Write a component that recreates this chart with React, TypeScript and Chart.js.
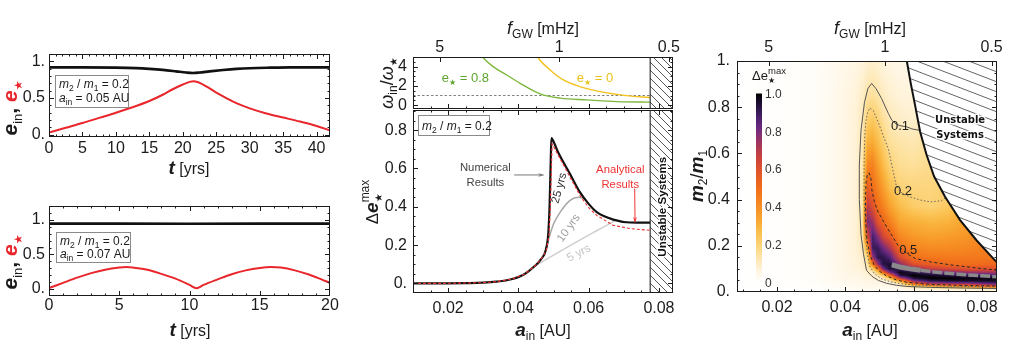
import React, { useEffect, useRef } from 'react';
import { Chart, registerables } from 'chart.js';

Chart.register(...registerables);

/* ====================== DATA ====================== */

// top-left panel: m2/m1 = 0.2, a_in = 0.05 AU
const tStarA = [0, 2.5, 5, 7.5, 10, 12.5, 15, 17, 18.5, 20, 21, 21.6, 22.3, 23.5, 25, 26.5, 28, 30, 32.5, 35, 37.5, 40, 42];
const eStarA = [0.03, 0.095, 0.16, 0.23, 0.3, 0.375, 0.46, 0.545, 0.62, 0.685, 0.72, 0.73, 0.715, 0.66, 0.575, 0.5, 0.43, 0.36, 0.29, 0.235, 0.18, 0.12, 0.06];
const tInA = [0, 5, 10, 13, 15, 17, 19, 20.5, 21.5, 22.5, 24, 26, 28, 30, 33, 36, 42];
const eInA = [0.918, 0.918, 0.915, 0.908, 0.898, 0.884, 0.864, 0.848, 0.842, 0.848, 0.864, 0.882, 0.897, 0.907, 0.914, 0.918, 0.918];

// bottom-left panel: m2/m1 = 0.2, a_in = 0.07 AU
const tStarB = [0, 1, 2, 3, 4, 5, 5.5, 6, 7, 8, 9, 10, 10.5, 11, 12, 13, 14, 15, 15.8, 16.5, 17.5, 18.5, 19.5, 20];
const eStarB = [0.015, 0.09, 0.165, 0.23, 0.28, 0.31, 0.318, 0.31, 0.28, 0.22, 0.15, 0.06, 0.012, 0.06, 0.14, 0.215, 0.27, 0.305, 0.318, 0.31, 0.27, 0.21, 0.13, 0.09];
const tInB = [0, 5, 10, 15, 20];
const eInB = [0.945, 0.946, 0.944, 0.945, 0.945];

// middle-top panel: omega_in / omega_star
const aGreen = [0.0294, 0.0301, 0.0329, 0.0367, 0.0405, 0.0462, 0.0519, 0.0595, 0.068, 0.0775];
const wGreen = [5.2, 4.87, 3.98, 3.13, 2.27, 1.17, 0.73, 0.55, 0.37, 0.31];
const aYellow = [0.0452, 0.0457, 0.049, 0.0528, 0.0575, 0.0632, 0.0708, 0.0775];
const wYellow = [5.2, 4.87, 3.66, 2.62, 1.93, 1.41, 0.99, 0.79];
const wUnity = 1;

// middle-bottom panel: delta e_star max
const aNum = [0.01, 0.02, 0.025, 0.03, 0.0336, 0.038, 0.0417, 0.0445, 0.0464, 0.0478, 0.0485, 0.0489, 0.0492, 0.0494, 0.0498, 0.0513, 0.0547, 0.0575, 0.06, 0.0623, 0.067, 0.0718, 0.0775];
const deNum = [0, 0.0005, 0.0015, 0.004, 0.009, 0.022, 0.048, 0.088, 0.125, 0.175, 0.26, 0.42, 0.64, 0.758, 0.748, 0.684, 0.571, 0.476, 0.415, 0.372, 0.333, 0.318, 0.317];
const aAna = [0.01, 0.02, 0.03, 0.0336, 0.038, 0.0417, 0.0445, 0.0464, 0.0479, 0.0487, 0.0491, 0.0494, 0.0496, 0.0513, 0.0547, 0.0575, 0.06, 0.0623, 0.067, 0.0718, 0.0775];
const deAna = [0, 0.0005, 0.004, 0.009, 0.022, 0.048, 0.088, 0.125, 0.17, 0.25, 0.4, 0.6, 0.728, 0.67, 0.555, 0.46, 0.395, 0.355, 0.303, 0.286, 0.277];
const a10 = [0.0478, 0.0486, 0.05, 0.0519, 0.0547, 0.0571, 0.059];
const de10 = [0.175, 0.23, 0.31, 0.372, 0.433, 0.45, 0.442];
const a5 = [0.0445, 0.05, 0.0557, 0.061, 0.0656, 0.0675];
const de5 = [0.088, 0.148, 0.208, 0.262, 0.308, 0.328];
const unstableA = 0.0775;

// right panel: heat map of delta e_star max over (a_in, m2/m1)
const heatA = [0.008, 0.03, 0.036, 0.04, 0.043, 0.045, 0.0465, 0.048, 0.0495, 0.051, 0.053, 0.056, 0.06, 0.065, 0.07, 0.076, 0.085];
const heatM = [0, 0.012, 0.024, 0.036, 0.048, 0.06, 0.072, 0.085, 0.1, 0.12, 0.15, 0.19, 0.24, 0.3, 0.37, 0.45, 0.55, 0.65, 0.75, 0.85, 0.95, 1.0];
const heatByColumn = [
  [0, 0, 0, 0, 0, 0, 0, 0, 0, 0, 0, 0, 0, 0, 0, 0, 0, 0, 0, 0, 0, 0],
  [0, 0.003, 0.005, 0.008, 0.01, 0.01, 0.01, 0.01, 0.01, 0.01, 0.01, 0.01, 0.01, 0.01, 0.01, 0.01, 0.01, 0.01, 0.01, 0.01, 0.01, 0.01],
  [0.005, 0.01, 0.015, 0.02, 0.022, 0.025, 0.025, 0.028, 0.03, 0.03, 0.03, 0.03, 0.03, 0.03, 0.03, 0.03, 0.03, 0.03, 0.03, 0.03, 0.028, 0.025],
  [0.008, 0.015, 0.022, 0.03, 0.035, 0.04, 0.042, 0.045, 0.048, 0.05, 0.05, 0.05, 0.05, 0.05, 0.05, 0.05, 0.05, 0.05, 0.05, 0.05, 0.045, 0.04],
  [0.01, 0.02, 0.028, 0.035, 0.04, 0.045, 0.05, 0.055, 0.06, 0.063, 0.066, 0.068, 0.07, 0.07, 0.07, 0.07, 0.07, 0.07, 0.068, 0.064, 0.055, 0.05],
  [0.012, 0.02, 0.03, 0.04, 0.045, 0.05, 0.055, 0.06, 0.07, 0.075, 0.085, 0.1, 0.12, 0.13, 0.13, 0.13, 0.12, 0.115, 0.105, 0.09, 0.07, 0.06],
  [0.015, 0.025, 0.035, 0.045, 0.05, 0.06, 0.07, 0.085, 0.11, 0.14, 0.19, 0.35, 0.6, 0.8, 0.7, 0.55, 0.42, 0.3, 0.21, 0.14, 0.09, 0.08],
  [0.015, 0.025, 0.035, 0.045, 0.055, 0.065, 0.08, 0.1, 0.2, 0.45, 0.75, 0.9, 0.88, 0.76, 0.6, 0.5, 0.44, 0.32, 0.23, 0.15, 0.1, 0.085],
  [0.015, 0.025, 0.035, 0.045, 0.06, 0.08, 0.12, 0.22, 0.45, 0.75, 0.92, 0.9, 0.78, 0.6, 0.5, 0.43, 0.35, 0.27, 0.2, 0.13, 0.09, 0.075],
  [0.015, 0.025, 0.035, 0.05, 0.07, 0.1, 0.22, 0.5, 0.8, 0.93, 0.92, 0.82, 0.65, 0.53, 0.44, 0.36, 0.28, 0.21, 0.15, 0.1, 0.07, 0.06],
  [0.015, 0.025, 0.04, 0.06, 0.1, 0.25, 0.5, 0.8, 0.95, 0.95, 0.86, 0.72, 0.56, 0.45, 0.35, 0.27, 0.2, 0.15, 0.11, 0.08, 0.06, 0.05],
  [0.015, 0.03, 0.06, 0.12, 0.35, 0.7, 0.93, 0.98, 0.9, 0.78, 0.62, 0.5, 0.42, 0.34, 0.27, 0.2, 0.16, 0.13, 0.09, 0.065, 0.05, 0.045],
  [0.02, 0.05, 0.15, 0.5, 0.78, 0.95, 1.0, 0.93, 0.78, 0.6, 0.49, 0.43, 0.37, 0.31, 0.22, 0.19, 0.15, 0.12, 0.08, 0.06, 0.05, 0.045],
  [0.02, 0.06, 0.3, 0.7, 0.92, 1.0, 0.96, 0.85, 0.67, 0.55, 0.47, 0.41, 0.35, 0.29, 0.2, 0.19, 0.17, 0.15, 0.12, 0.1, 0.08, 0.08],
  [0.02, 0.07, 0.36, 0.74, 0.95, 1.0, 0.93, 0.8, 0.63, 0.51, 0.46, 0.41, 0.36, 0.3, 0.23, 0.2, 0.2, 0.2, 0.2, 0.2, 0.2, 0.2],
  [0.02, 0.09, 0.42, 0.76, 0.96, 0.98, 0.9, 0.75, 0.6, 0.5, 0.46, 0.42, 0.38, 0.35, 0.35, 0.35, 0.35, 0.35, 0.35, 0.35, 0.35, 0.35],
  [0.03, 0.1, 0.6, 0.85, 0.97, 0.97, 0.88, 0.72, 0.6, 0.52, 0.47, 0.47, 0.47, 0.47, 0.47, 0.47, 0.47, 0.47, 0.47, 0.47, 0.47, 0.47],
];
const cmapStops = [0, 0.05, 0.1, 0.15, 0.2, 0.25, 0.3, 0.35, 0.4, 0.45, 0.5, 0.55, 0.6, 0.65, 0.7, 0.75, 0.8, 0.85, 0.9, 0.95, 1.0];
const cmapColors = ['#ffffff', '#fff6e4', '#feebc0', '#fde09a', '#fcd276', '#fbc355', '#f9b23c', '#f8a02d', '#f68e24', '#f47d1d', '#f06d1b', '#e95e22', '#de512d', '#cd4539', '#b63b4c', '#983363', '#782c7e', '#582476', '#381a58', '#1c0d30', '#000000'];

const boundaryA = [0.058, 0.0592, 0.0604, 0.0619, 0.0638, 0.066, 0.0692, 0.0736, 0.0784, 0.0838, 0.0846];
const boundaryM = [1.0, 0.9, 0.81, 0.694, 0.593, 0.5, 0.412, 0.311, 0.224, 0.137, 0.127];

const c01A = [0.0845, 0.075, 0.065, 0.058, 0.055, 0.052, 0.0497, 0.0478, 0.0462, 0.0453, 0.0446, 0.0441, 0.0441, 0.0446, 0.0456, 0.0466, 0.0477, 0.049, 0.0506, 0.0526, 0.0536, 0.0548, 0.056, 0.058, 0.0595, 0.0617];
const c01M = [0.015, 0.017, 0.02, 0.024, 0.029, 0.038, 0.05, 0.068, 0.094, 0.166, 0.25, 0.4, 0.55, 0.7, 0.82, 0.88, 0.903, 0.88, 0.838, 0.773, 0.744, 0.728, 0.72, 0.715, 0.706, 0.7];
const c02A = [0.0845, 0.07, 0.06, 0.056, 0.053, 0.0505, 0.0485, 0.0472, 0.0465, 0.046, 0.0455, 0.0455, 0.0457, 0.046, 0.0465, 0.0472, 0.0482, 0.0496, 0.051, 0.0526, 0.0536, 0.055, 0.0568, 0.0589, 0.062, 0.0648, 0.0682, 0.0697];
const c02M = [0.022, 0.025, 0.03, 0.036, 0.045, 0.058, 0.08, 0.11, 0.16, 0.25, 0.4, 0.55, 0.68, 0.737, 0.775, 0.797, 0.785, 0.737, 0.68, 0.62, 0.55, 0.455, 0.425, 0.412, 0.398, 0.39, 0.395, 0.412];
const c05A = [0.0845, 0.0785, 0.0716, 0.065, 0.0605, 0.058, 0.0555, 0.053, 0.051, 0.0495, 0.0485, 0.0478, 0.0475, 0.047, 0.0465, 0.0461, 0.0459, 0.046, 0.0464, 0.0472, 0.0485, 0.05, 0.052, 0.055, 0.058, 0.065, 0.075, 0.0845];
const c05M = [0.094, 0.104, 0.116, 0.13, 0.145, 0.166, 0.2, 0.26, 0.31, 0.35, 0.39, 0.44, 0.49, 0.515, 0.51, 0.48, 0.4, 0.3, 0.22, 0.16, 0.115, 0.09, 0.07, 0.052, 0.042, 0.033, 0.028, 0.026];
const grayWideA = [0.0536, 0.056, 0.059, 0.062];
const grayWideM = [0.118, 0.108, 0.1, 0.094];
const grayThinA = [0.062, 0.066, 0.07, 0.075, 0.08, 0.0845];
const grayThinM = [0.094, 0.087, 0.081, 0.075, 0.07, 0.066];

// tick values and labels
const tTicksA = [0, 5, 10, 15, 20, 25, 30, 35, 40];
const tLabelsA = ['0', '5', '10', '15', '20', '25', '30', '35', '40'];
const tTicksB = [0, 5, 10, 15, 20];
const tLabelsB = ['0', '5', '10', '15', '20'];
const eTicks = [0, 0.5, 1];
const eLabels = ['0.', '0.5', '1.'];
const aTicks = [0.02, 0.04, 0.06, 0.08];
const aLabels = ['0.02', '0.04', '0.06', '0.08'];
const fTickA = [0.0176, 0.0516, 0.0828];
const fLabels = ['5', '1', '0.5'];
const wTicks = [0, 2, 4];
const wLabels = ['0', '2', '4'];
const deTicks = [0, 0.2, 0.4, 0.6, 0.8];
const deLabels = ['0.', '0.2', '0.4', '0.6', '0.8'];
const qTicks = [0, 0.2, 0.4, 0.6, 0.8, 1];
const qLabels = ['0.', '0.2', '0.4', '0.6', '0.8', '1.'];
const cbTicks = [0, 0.2, 0.4, 0.6, 0.8, 1];
const cbLabels = ['0', '0.2', '0.4', '0.6', '0.8', '1.0'];

/* ====================== STYLE / HELPERS ====================== */

const FF = '"Liberation Sans", Arial, Helvetica, sans-serif';
const SF = '"DejaVu Sans", sans-serif';
const INK = '#1b1b1b';
const RED = '#e8262b';
const F = (size: number, style = '') => `${style} ${size}px ${FF}`.trim();
const S = (size: number, style = '') => `${style} ${size}px ${SF}`.trim();

type Part = { t: string; f: string; c?: string; dy?: number; stay?: boolean };

function drawRich(ctx: CanvasRenderingContext2D, parts: Part[], x: number, y: number, align = 'center', rot = 0, halo = '') {
  ctx.save();
  ctx.translate(x, y);
  if (rot) ctx.rotate(rot);
  ctx.textBaseline = 'alphabetic';
  ctx.textAlign = 'left';
  const widths = parts.map((p) => { ctx.font = p.f; return ctx.measureText(p.t).width; });
  const total = parts.reduce((s, p, i) => s + (p.stay ? 0 : widths[i]), 0);
  let cx = align === 'center' ? -total / 2 : align === 'right' ? -total : 0;
  parts.forEach((p, i) => {
    ctx.font = p.f;
    if (halo) {
      ctx.strokeStyle = halo; ctx.lineWidth = 3; ctx.lineJoin = 'round';
      ctx.strokeText(p.t, cx, p.dy || 0);
    }
    ctx.fillStyle = p.c || INK;
    ctx.fillText(p.t, cx, p.dy || 0);
    if (!p.stay) cx += widths[i];
  });
  ctx.restore();
}

function arrow(ctx: CanvasRenderingContext2D, x1: number, y1: number, x2: number, y2: number, color: string) {
  ctx.save();
  ctx.strokeStyle = color; ctx.fillStyle = color; ctx.lineWidth = 1;
  ctx.beginPath(); ctx.moveTo(x1, y1); ctx.lineTo(x2, y2); ctx.stroke();
  const ang = Math.atan2(y2 - y1, x2 - x1);
  const h = 6;
  ctx.beginPath();
  ctx.moveTo(x2, y2);
  ctx.lineTo(x2 - h * Math.cos(ang - 0.35), y2 - h * Math.sin(ang - 0.35));
  ctx.lineTo(x2 - h * 0.6 * Math.cos(ang), y2 - h * 0.6 * Math.sin(ang));
  ctx.lineTo(x2 - h * Math.cos(ang + 0.35), y2 - h * Math.sin(ang + 0.35));
  ctx.closePath(); ctx.fill();
  ctx.restore();
}

function legendBox(ctx: CanvasRenderingContext2D, x: number, y: number, w: number, h: number, lines: Part[][], baselines: number[]) {
  ctx.save();
  ctx.fillStyle = '#fff';
  ctx.fillRect(x, y, w, h);
  ctx.strokeStyle = '#8a8a8a'; ctx.lineWidth = 1;
  ctx.strokeRect(x + 0.5, y + 0.5, w, h);
  ctx.restore();
  lines.forEach((ln, i) => drawRich(ctx, ln, x + 4, baselines[i], 'left'));
}

const massLine = (v: string): Part[] => [
  { t: 'm', f: F(12, 'italic') }, { t: '2', f: F(8.5), dy: 3 }, { t: ' / ', f: F(12) },
  { t: 'm', f: F(12, 'italic') }, { t: '1', f: F(8.5), dy: 3 }, { t: ' = ' + v, f: F(12) },
];
const ainLine = (v: string): Part[] => [
  { t: 'a', f: F(12, 'italic') }, { t: 'in', f: F(8.5), dy: 3 }, { t: ' = ' + v + ' AU', f: F(12) },
];
const yTitleLeft: Part[] = [
  { t: 'e', f: F(21, 'italic bold') }, { t: 'in', f: F(13), dy: 5 }, { t: ', ', f: F(21, 'bold') },
  { t: 'e', f: F(21, 'italic bold'), c: RED }, { t: '★', f: S(11), c: RED, dy: 5 },
];
const xTitleT: Part[] = [{ t: 't', f: F(19, 'italic bold') }, { t: ' [yrs]', f: F(16) }];
const xTitleA: Part[] = [{ t: 'a', f: F(19, 'italic bold') }, { t: 'in', f: F(12), dy: 4 }, { t: ' [AU]', f: F(16) }];
const topTitle: Part[] = [{ t: 'f', f: F(18, 'italic') }, { t: 'GW', f: F(12), dy: 4 }, { t: ' [mHz]', f: F(16) }];
const yTitleW: Part[] = [
  { t: 'ω', f: F(18, 'italic') }, { t: 'in', f: F(12), dy: 4 }, { t: '/', f: F(18) },
  { t: 'ω', f: F(18, 'italic') }, { t: '★', f: S(10), dy: 4 },
];
const yTitleDE: Part[] = [
  { t: 'Δ', f: F(17) }, { t: 'e', f: F(19, 'italic bold') }, { t: '★', f: S(10), dy: 4, stay: true }, { t: 'max', f: F(12), dy: -9 },
];
const yTitleM: Part[] = [
  { t: 'm', f: F(19, 'italic bold') }, { t: '2', f: F(12), dy: 4 }, { t: '/', f: F(18) },
  { t: 'm', f: F(19, 'italic bold') }, { t: '1', f: F(12), dy: 4 },
];
const cbTitle: Part[] = [{ t: 'Δe', f: F(13) }, { t: '★', f: S(8), dy: 3, stay: true }, { t: 'max', f: F(9.5), dy: -6 }];
const eStarLbl = (v: string, c: string): Part[] => [
  { t: 'e', f: F(13), c }, { t: '★', f: S(8), dy: 3, c }, { t: ' = ' + v, f: F(13), c },
];

const seq = (a: number, b: number, s: number) => {
  const r: number[] = [];
  for (let v = a; v <= b + 1e-9; v += s) r.push(+v.toFixed(6));
  return r;
};

function locate(arr: number[], v: number): [number, number] {
  if (v <= arr[0]) return [0, 0];
  if (v >= arr[arr.length - 1]) return [arr.length - 2, 1];
  let i = 0;
  while (arr[i + 1] < v) i++;
  return [i, (v - arr[i]) / (arr[i + 1] - arr[i])];
}
const hexRgb = (h: string) => [parseInt(h.slice(1, 3), 16), parseInt(h.slice(3, 5), 16), parseInt(h.slice(5, 7), 16)];

function makeHatch(w: number, h: number, color: string) {
  const c = document.createElement('canvas');
  c.width = w; c.height = h;
  const g = c.getContext('2d') as CanvasRenderingContext2D;
  g.fillStyle = '#ffffff'; g.fillRect(0, 0, w, h);
  g.strokeStyle = color; g.lineWidth = 0.9;
  for (const k of [-1, 0, 1]) { g.beginPath(); g.moveTo(0, k * h); g.lineTo(w, (k + 1) * h); g.stroke(); }
  return g.createPattern(c, 'repeat') as CanvasPattern;
}

function ds(xs: number[], ys: number[], style: any) {
  return {
    data: xs.map((x, i) => ({ x, y: ys[i] })), xAxisID: 'x', yAxisID: 'y',
    pointRadius: 0, pointHoverRadius: 0, fill: false, borderWidth: 1, ...style,
  };
}

function drawHeat(chart: any) {
  const { ctx, chartArea: ca } = chart;
  const xs = chart.scales.x, ys = chart.scales.y;
  const W = Math.round(ca.right - ca.left), H = Math.round(ca.bottom - ca.top);
  const off = document.createElement('canvas');
  off.width = W; off.height = H;
  const g = off.getContext('2d') as CanvasRenderingContext2D;
  const img = g.createImageData(W, H);
  const rgb = cmapColors.map(hexRgb);
  const G = heatByColumn;
  for (let px = 0; px < W; px++) {
    const a = xs.getValueForPixel(ca.left + px + 0.5);
    const [i, ta] = locate(heatA, a);
    for (let py = 0; py < H; py++) {
      const m = ys.getValueForPixel(ca.top + py + 0.5);
      const [j, tm] = locate(heatM, m);
      const v = (1 - ta) * (1 - tm) * G[i][j] + ta * (1 - tm) * G[i + 1][j] + (1 - ta) * tm * G[i][j + 1] + ta * tm * G[i + 1][j + 1];
      const [k, tk] = locate(cmapStops, v);
      const c0 = rgb[k], c1 = rgb[k + 1];
      const o = (py * W + px) * 4;
      img.data[o] = c0[0] + (c1[0] - c0[0]) * tk;
      img.data[o + 1] = c0[1] + (c1[1] - c0[1]) * tk;
      img.data[o + 2] = c0[2] + (c1[2] - c0[2]) * tk;
      img.data[o + 3] = 255;
    }
  }
  g.putImageData(img, 0, 0);
  ctx.drawImage(off, ca.left, ca.top);
}

/* ====================== LAYOUT ====================== */

const BOXES = [
  { left: 0, top: 40, width: 340, height: 150 },
  { left: 0, top: 190, width: 344, height: 165 },
  { left: 340, top: 0, width: 350, height: 126 },
  { left: 340, top: 93, width: 350, height: 262 },
  { left: 680, top: 0, width: 344, height: 355 },
];

type Axis = { min: number; max: number; ticks: number[]; labels: string[]; pad: number; display?: boolean };
type Frame = { xMaj: number[]; xMin: number[]; yMaj: number[]; yMin: number[]; topMaj?: number[] };
type Panel = {
  box: { left: number; top: number; width: number; height: number };
  m: { l: number; t: number; r: number; b: number };
  x: Axis; x2?: Axis; y: Axis; frame: Frame; datasets: any[];
  before?: (c: any) => void;
  after?: (ctx: CanvasRenderingContext2D, pt: (a: number, v: number) => number[]) => void;
};

function axisOpts(ax: Axis, position: string, fit: (s: any) => void) {
  return {
    type: 'linear', position, min: ax.min, max: ax.max, display: ax.display !== false,
    grid: { display: false, drawTicks: false }, border: { display: false },
    ticks: {
      autoSkip: false, maxRotation: 0, minRotation: 0, padding: ax.pad, color: INK,
      font: { family: FF, size: 16 },
      callback: (_v: any, i: number) => ax.labels[i] ?? '',
    },
    afterBuildTicks: (s: any) => { s.ticks = ax.ticks.map((v) => ({ value: v })); },
    afterFit: fit,
  };
}

function framePlugin(p: Panel) {
  return {
    id: 'frame',
    afterDatasetsDraw(c: any) {
      const { ctx, chartArea: a } = c;
      const xs = c.scales.x, ys = c.scales.y;
      const L = a.left, R = a.right, T = a.top, B = a.bottom;
      ctx.save();
      ctx.strokeStyle = INK; ctx.lineWidth = 1;
      ctx.strokeRect(L + 0.5, T + 0.5, R - L - 1, B - T - 1);
      const ln = (x1: number, y1: number, x2: number, y2: number) => { ctx.beginPath(); ctx.moveTo(x1, y1); ctx.lineTo(x2, y2); ctx.stroke(); };
      const f = p.frame;
      const xt = (vals: number[], len: number, top: boolean, bottom: boolean) => vals.forEach((v) => {
        const px = Math.round(xs.getPixelForValue(v)) + 0.5;
        if (px < L + 1.5 || px > R - 1.5) return;
        if (bottom) ln(px, B, px, B - len);
        if (top) ln(px, T, px, T + len);
      });
      const yt = (vals: number[], len: number) => vals.forEach((v) => {
        const py = Math.round(ys.getPixelForValue(v)) + 0.5;
        if (py < T + 1.5 || py > B - 1.5) return;
        ln(L, py, L + len, py);
        ln(R, py, R - len, py);
      });
      if (f.topMaj) {
        xt(f.xMin, 2.5, false, true); xt(f.xMaj, 5, false, true); xt(f.topMaj, 5, true, false);
      } else {
        xt(f.xMin, 2.5, true, true); xt(f.xMaj, 5, true, true);
      }
      yt(f.yMin, 2.5); yt(f.yMaj, 5);
      ctx.restore();
    },
  };
}

function makeChart(canvas: HTMLCanvasElement, p: Panel) {
  const xShown = p.x.display !== false;
  const scales: any = {
    x: axisOpts(p.x, 'bottom', (s: any) => { s.height = xShown ? p.m.b : 0; }),
    y: axisOpts(p.y, 'left', (s: any) => { s.width = p.m.l; }),
  };
  if (p.x2) scales.x2 = axisOpts(p.x2, 'top', (s: any) => { s.height = p.m.t; });
  const plugins: any[] = [];
  if (p.before) plugins.push({ id: 'under', beforeDatasetsDraw: (c: any) => p.before!(c) });
  plugins.push(framePlugin(p));
  plugins.push({
    id: 'over',
    afterDraw: (c: any) => {
      const ctx = c.ctx as CanvasRenderingContext2D;
      const pt = (a: number, v: number) => [c.scales.x.getPixelForValue(a) + p.box.left, c.scales.y.getPixelForValue(v) + p.box.top];
      ctx.save();
      ctx.translate(-p.box.left, -p.box.top);
      if (p.after) p.after(ctx, pt);
      ctx.restore();
    },
  });
  return new Chart(canvas, {
    type: 'line',
    data: { datasets: p.datasets },
    options: {
      responsive: false, maintainAspectRatio: false, animation: false, devicePixelRatio: 1, events: [],
      layout: { padding: { left: 0, right: p.m.r, top: p.x2 ? 0 : p.m.t, bottom: xShown ? 0 : p.m.b } },
      plugins: { legend: { display: false }, tooltip: { enabled: false } },
      elements: { point: { radius: 0, hoverRadius: 0 }, line: { tension: 0 } },
      scales,
    } as any,
    plugins,
  } as any);
}

function buildPanels(hatchMid: CanvasPattern, hatchRight: CanvasPattern): Panel[] {
  const mono = { cubicInterpolationMode: 'monotone' };
  const panelA: Panel = {
    box: BOXES[0], m: { l: 49, t: 14, r: 10, b: 53 },
    x: { min: 0, max: 42, ticks: tTicksA, labels: tLabelsA, pad: 2 },
    y: { min: -0.03, max: 1.1, ticks: eTicks, labels: eLabels, pad: 4 },
    frame: { xMaj: tTicksA, xMin: seq(0, 42, 1), yMaj: eTicks, yMin: seq(0, 1.1, 0.1) },
    datasets: [
      ds(tInA, eInA, { borderColor: '#111', borderWidth: 2.6, ...mono }),
      ds(tStarA, eStarA, { borderColor: RED, borderWidth: 2, ...mono }),
    ],
    after: (ctx) => {
      drawRich(ctx, yTitleLeft, 17, 108, 'center', -Math.PI / 2);
      drawRich(ctx, xTitleT, 189, 174);
      legendBox(ctx, 55, 75, 73, 32, [massLine('0.2'), ainLine('0.05')], [87.5, 101.5]);
    },
  };
  const panelB: Panel = {
    box: BOXES[1], m: { l: 49, t: 16, r: 14, b: 59 },
    x: { min: 0, max: 20, ticks: tTicksB, labels: tLabelsB, pad: 0 },
    y: { min: -0.1, max: 1.2, ticks: eTicks, labels: eLabels, pad: 4 },
    frame: { xMaj: tTicksB, xMin: seq(0, 20, 1), yMaj: eTicks, yMin: seq(-0.1, 1.2, 0.1) },
    datasets: [
      ds(tInB, eInB, { borderColor: '#111', borderWidth: 2.6 }),
      ds(tStarB, eStarB, { borderColor: RED, borderWidth: 2, ...mono }),
    ],
    after: (ctx) => {
      drawRich(ctx, yTitleLeft, 17, 262, 'center', -Math.PI / 2);
      drawRich(ctx, xTitleT, 190, 336);
      legendBox(ctx, 56, 232, 74, 30, [massLine('0.2'), ainLine('0.07')], [244.5, 258]);
    },
  };
  const panelC: Panel = {
    box: BOXES[2], m: { l: 73, t: 57, r: 17, b: 17 },
    x: { min: 0.01, max: 0.084, ticks: aTicks, labels: aLabels, pad: 6, display: false },
    x2: { min: 0.01, max: 0.084, ticks: fTickA, labels: fLabels, pad: 0 },
    y: { min: -0.4, max: 5, ticks: wTicks, labels: wLabels, pad: 6 },
    frame: { xMaj: aTicks, xMin: seq(0.01, 0.084, 0.005), yMaj: wTicks, yMin: seq(0, 4.5, 0.5), topMaj: fTickA },
    datasets: [
      ds([unstableA, unstableA], [-0.4, 5], { borderColor: '#111', borderWidth: 1 }),
      ds(aGreen, wGreen, { borderColor: '#7db83c', borderWidth: 1.4, ...mono }),
      ds(aYellow, wYellow, { borderColor: '#f4c21e', borderWidth: 1.4, ...mono }),
      ds([0.01, unstableA], [wUnity, wUnity], { borderColor: '#808080', borderWidth: 1, borderDash: [2.5, 2] }),
      ds([unstableA, 0.085], [5, 5], { borderWidth: 0, borderColor: 'rgba(0,0,0,0)', fill: 'start', backgroundColor: hatchMid }),
    ],
    after: (ctx, pt) => {
      drawRich(ctx, yTitleW, 393, 83, 'center', -Math.PI / 2);
      drawRich(ctx, topTitle, 543, 34);
      const g = pt(0.0249, 2.83); drawRich(ctx, eStarLbl('0.8', '#5da52e'), g[0], g[1] + 4.5);
      const y = pt(0.0618, 2.83); drawRich(ctx, eStarLbl('0', '#e9c21a'), y[0], y[1] + 4.5);
    },
  };
  const panelD: Panel = {
    box: BOXES[3], m: { l: 73, t: 17, r: 17, b: 62 },
    x: { min: 0.01, max: 0.084, ticks: aTicks, labels: aLabels, pad: 6 },
    y: { min: -0.05, max: 0.905, ticks: deTicks, labels: deLabels, pad: 6 },
    frame: { xMaj: aTicks, xMin: seq(0.01, 0.084, 0.005), yMaj: deTicks, yMin: seq(0, 0.9, 0.05) },
    datasets: [
      ds(aAna, deAna, { borderColor: '#ee3333', borderWidth: 1.1, borderDash: [3, 2] }),
      ds(aNum, deNum, { borderColor: '#111', borderWidth: 2.2, ...mono }),
      ds(a10, de10, { borderColor: '#a6a6a6', borderWidth: 1.5, ...mono }),
      ds(a5, de5, { borderColor: '#cfcfcf', borderWidth: 1.5, ...mono }),
      ds([unstableA, unstableA], [-0.05, 0.905], { borderColor: '#111', borderWidth: 1 }),
      ds([unstableA, 0.085], [0.905, 0.905], { borderWidth: 0, borderColor: 'rgba(0,0,0,0)', fill: 'start', backgroundColor: hatchMid }),
    ],
    after: (ctx, pt) => {
      drawRich(ctx, yTitleDE, 378, 202, 'center', -Math.PI / 2);
      drawRich(ctx, xTitleA, 543, 336);
      legendBox(ctx, 418, 115, 71, 20, [massLine('0.2')], [129.5]);
      const n1 = pt(0.0306, 0.609), n2 = pt(0.0306, 0.528);
      drawRich(ctx, [{ t: 'Numerical', f: F(11.3), c: '#444' }], n1[0], n1[1] + 4);
      drawRich(ctx, [{ t: 'Results', f: F(11.3), c: '#444' }], n2[0], n2[1] + 4);
      const na = pt(0.0388, 0.566), nb = pt(0.0472, 0.566);
      arrow(ctx, na[0], na[1], nb[0], nb[1], '#777');
      const r1 = pt(0.069, 0.595), r2 = pt(0.069, 0.519);
      drawRich(ctx, [{ t: 'Analytical', f: F(11.3), c: '#ee3333' }], r1[0], r1[1] + 4);
      drawRich(ctx, [{ t: 'Results', f: F(11.3), c: '#ee3333' }], r2[0], r2[1] + 4);
      const ra = pt(0.0731, 0.495), rb = pt(0.0732, 0.318);
      arrow(ctx, ra[0], ra[1], rb[0], rb[1], '#ee3333');
      const l25 = pt(0.0514, 0.493), l10 = pt(0.0542, 0.294), l5 = pt(0.0576, 0.164);
      drawRich(ctx, [{ t: '25 yrs', f: F(11.5), c: '#333' }], l25[0] + 4, l25[1], 'center', -1.3);
      drawRich(ctx, [{ t: '10 yrs', f: F(11.5), c: '#a0a0a0' }], l10[0] + 3, l10[1] + 3, 'center', -0.95);
      drawRich(ctx, [{ t: '5 yrs', f: F(11.5), c: '#c4c4c4' }], l5[0], l5[1] + 4, 'center', -0.48);
      const us = pt(0.0808, 0.4);
      drawRich(ctx, [{ t: 'Unstable Systems', f: F(11.6, 'bold'), c: '#111' }], us[0] + 4, us[1], 'center', -Math.PI / 2, '#ffffff');
    },
  };
  const panelE: Panel = {
    box: BOXES[4], m: { l: 57, t: 61, r: 27, b: 63 },
    x: { min: 0.0083, max: 0.0844, ticks: aTicks, labels: aLabels, pad: 6 },
    x2: { min: 0.0083, max: 0.0844, ticks: fTickA, labels: fLabels, pad: 4 },
    y: { min: 0, max: 1, ticks: qTicks, labels: qLabels, pad: 7 },
    frame: { xMaj: aTicks, xMin: seq(0.01, 0.084, 0.005), yMaj: qTicks, yMin: seq(0, 1, 0.05), topMaj: fTickA },
    datasets: [
      ds(boundaryA, boundaryM, { borderColor: '#111', borderWidth: 2, fill: 'end', backgroundColor: hatchRight }),
      ds(grayWideA, grayWideM, { borderColor: '#8a8a8a', borderWidth: 5 }),
      ds(grayThinA, grayThinM, { borderColor: '#8a8a8a', borderWidth: 3.5, borderDash: [10, 2] }),
      ds(c05A, c05M, { borderColor: '#2a2a2a', borderWidth: 1, borderDash: [3, 2.5] }),
      ds(c02A, c02M, { borderColor: '#666', borderWidth: 1, borderDash: [1.5, 2] }),
      ds(c01A, c01M, { borderColor: '#555', borderWidth: 1 }),
    ],
    before: drawHeat,
    after: (ctx, pt) => {
      drawRich(ctx, yTitleM, 703, 176, 'center', -Math.PI / 2);
      drawRich(ctx, xTitleA, 870, 336);
      drawRich(ctx, topTitle, 870, 34);
      // colour bar
      const yb = 282, yt = 93.5;
      const grad = ctx.createLinearGradient(0, yb, 0, yt);
      cmapStops.forEach((s, i) => grad.addColorStop(s, cmapColors[i]));
      ctx.fillStyle = grad;
      ctx.fillRect(756, yt, 6, yb - yt);
      cbTicks.forEach((v, i) => drawRich(ctx, [{ t: cbLabels[i], f: F(12), c: '#333' }], 765, yb - v * (yb - yt) + 4.5, 'left'));
      drawRich(ctx, cbTitle, 769, 80);
      const t1 = pt(0.056, 0.7226), t2 = pt(0.0569, 0.441), t5 = pt(0.0584, 0.184);
      drawRich(ctx, [{ t: '0.1', f: F(13), c: '#222' }], t1[0], t1[1] + 4.5);
      drawRich(ctx, [{ t: '0.2', f: F(13), c: '#222' }], t2[0], t2[1] + 4.5);
      drawRich(ctx, [{ t: '0.5', f: F(13), c: '#222' }], t5[0], t5[1] + 4.5);
      const u1 = pt(0.0736, 0.748), u2 = pt(0.0736, 0.682);
      drawRich(ctx, [{ t: 'Unstable', f: S(10, 'bold'), c: '#111' }], u1[0], u1[1] + 3.5, 'center', 0, '#ffffff');
      drawRich(ctx, [{ t: 'Systems', f: S(10, 'bold'), c: '#111' }], u2[0], u2[1] + 3.5, 'center', 0, '#ffffff');
    },
  };
  return [panelA, panelB, panelC, panelD, panelE];
}

/* ====================== COMPONENT ====================== */

export default function App() {
  const refs = useRef<(HTMLCanvasElement | null)[]>([]);
  useEffect(() => {
    const hatchMid = makeHatch(8, 8, '#444');
    const hatchRight = makeHatch(26, 10, '#555');
    const panels = buildPanels(hatchMid, hatchRight);
    const charts = panels.map((p, i) => makeChart(refs.current[i] as HTMLCanvasElement, p));
    return () => charts.forEach((c) => c.destroy());
  }, []);
  return (
    <div style={{ position: 'absolute', left: 0, top: 0, width: 1024, height: 355, background: '#fff', overflow: 'hidden' }}>
      {BOXES.map((b, i) => (
        <canvas
          key={i}
          ref={(el) => { refs.current[i] = el; }}
          width={b.width}
          height={b.height}
          style={{ position: 'absolute', left: b.left, top: b.top, width: b.width, height: b.height }}
        />
      ))}
    </div>
  );
}
